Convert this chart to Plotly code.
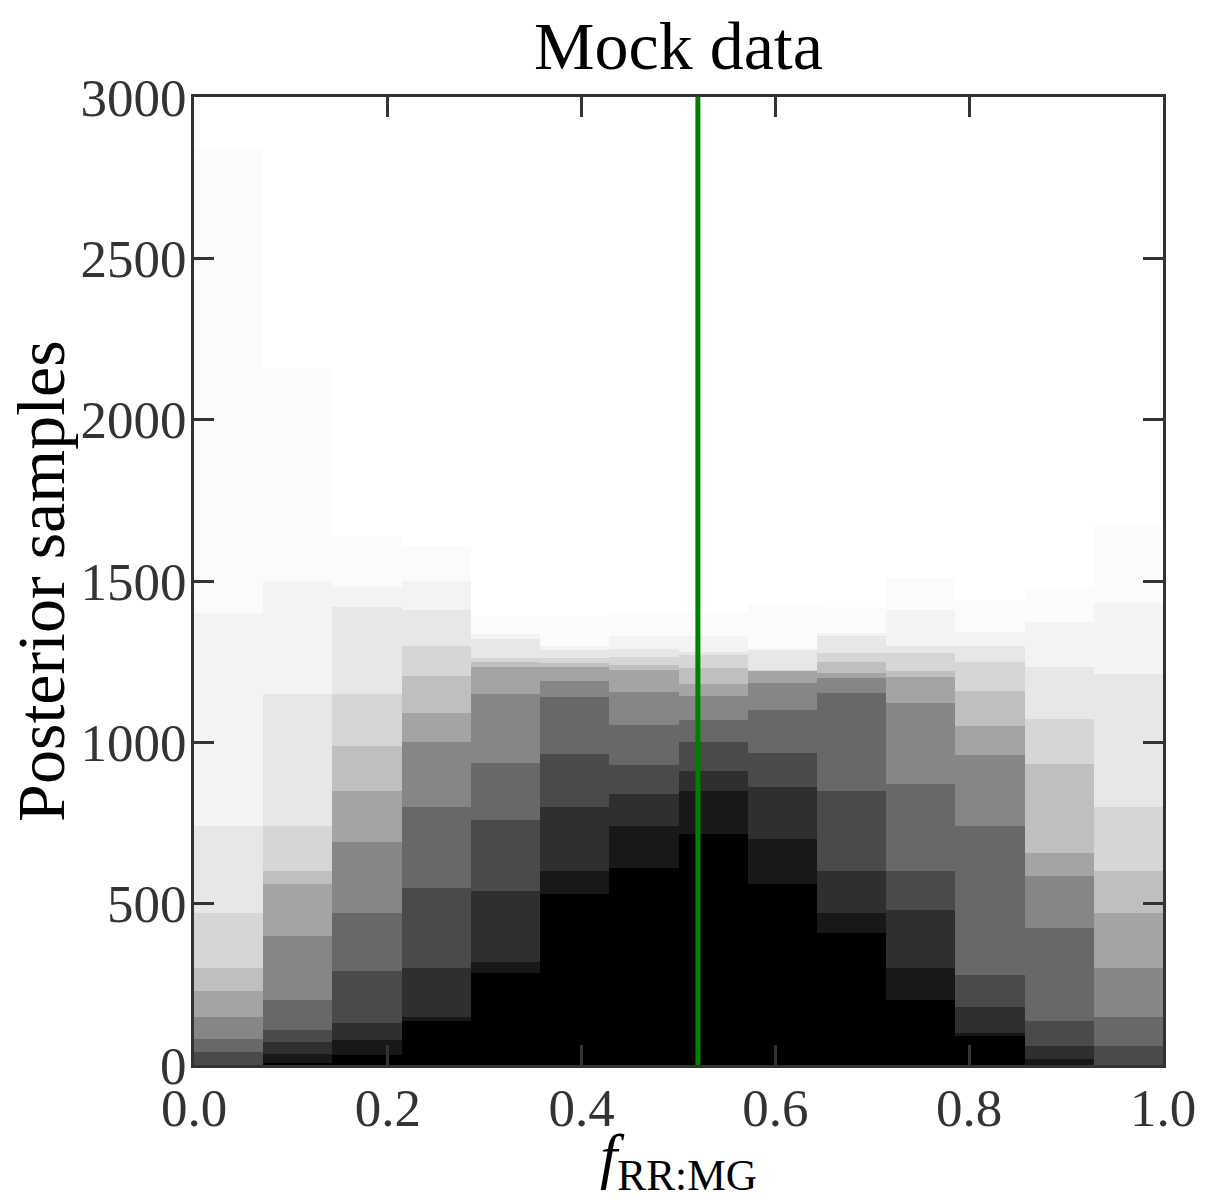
import numpy as np
import plotly.graph_objects as go

# 14 histogram bins spanning f = 0 .. 1
n_bins = 14
bin_edges = np.linspace(0.0, 1.0, n_bins + 1)
bin_centers = 0.5 * (bin_edges[:-1] + bin_edges[1:])

# Grey shade levels (0 = black, 255 = white) of the overlaid posterior histograms
shade_levels = [250, 240, 225, 205, 180, 150, 120, 90, 60, 35, 15, 0]
# grey used to paint the band just below each level's height
band_greys = [251, 243, 231, 214, 191, 164, 134, 104, 74, 47, 24, 0]

# Height (posterior samples) below which each bin is at least as dark as the level
h_250 = [2842, 2160, 1640, 1610, 1390, 1390, 1400, 1400, 1430, 1420, 1510, 1440, 1478, 1673]
h_240 = [1400, 1500, 1480, 1500, 1335, 1300, 1330, 1330, 1290, 1340, 1410, 1343, 1373, 1432]
h_225 = [740, 1150, 1420, 1410, 1320, 1285, 1290, 1280, 1285, 1330, 1300, 1300, 1233, 1212]
h_205 = [470, 740, 1150, 1300, 1260, 1260, 1265, 1270, 1225, 1276, 1276, 1250, 1072, 800]
h_180 = [300, 600, 990, 1205, 1250, 1245, 1240, 1230, 1222, 1250, 1220, 1160, 933, 600]
h_150 = [230, 560, 850, 1090, 1235, 1235, 1225, 1180, 1220, 1214, 1204, 1050, 657, 470]
h_120 = [150, 400, 690, 1000, 1150, 1190, 1155, 1145, 1183, 1200, 1122, 960, 586, 300]
h_90 = [80, 200, 470, 800, 935, 1140, 1055, 1070, 1100, 1153, 870, 740, 425, 150]
h_60 = [40, 110, 290, 550, 760, 965, 930, 1000, 966, 850, 600, 280, 136, 60]
h_35 = [0, 70, 130, 300, 540, 800, 840, 910, 862, 600, 480, 180, 60, 0]
h_15 = [0, 35, 77, 150, 320, 600, 740, 850, 700, 470, 300, 100, 20, 0]
h_0 = [0, 5, 30, 135, 285, 530, 610, 715, 560, 410, 200, 90, 0, 0]
level_heights = [h_250, h_240, h_225, h_205, h_180, h_150, h_120, h_90, h_60, h_35, h_15, h_0]

# True value marker
true_f = 0.52

x_ticks = [0.0, 0.2, 0.4, 0.6, 0.8, 1.0]
x_tick_labels = ["0.0", "0.2", "0.4", "0.6", "0.8", "1.0"]
y_ticks = [0, 500, 1000, 1500, 2000, 2500, 3000]
y_tick_labels = ["0", "500", "1000", "1500", "2000", "2500", "3000"]

fig = go.Figure()
for grey, heights in zip(band_greys, level_heights):
    fig.add_trace(go.Bar(
        x=bin_centers, y=heights, width=1.0 / n_bins,
        marker=dict(color=f"rgb({grey},{grey},{grey})", line=dict(width=0)),
        showlegend=False, hoverinfo="skip",
    ))

fig.add_trace(go.Scatter(
    x=[true_f, true_f], y=[0, 3000], mode="lines",
    line=dict(color="#008000", width=5), showlegend=False, hoverinfo="skip",
))

serif = "Liberation Serif, Times New Roman, serif"
axis_common = dict(
    showline=True, linewidth=3, linecolor="#333333", mirror="ticks",
    ticks="inside", ticklen=20, tickwidth=2.5, tickcolor="#333333",
    showgrid=False, zeroline=False, automargin=False,
    ticklabelstandoff=-6,
    tickfont=dict(family=serif, size=53, color="#333333"),
)

# the page body adds an 8 px offset, so the figure is 8 px smaller
fig.update_layout(
    width=1200, height=1195,
    margin=dict(l=186, r=45, t=89, b=138),
    paper_bgcolor="white", plot_bgcolor="white",
    barmode="overlay", bargap=0,
    title=dict(text="Mock data", xref="paper", x=0.5, xanchor="center",
               yref="container", y=0.969, yanchor="middle",
               font=dict(family=serif, size=68, color="black")),
    xaxis=dict(range=[0, 1], tickvals=x_ticks, ticktext=x_tick_labels, **axis_common),
    yaxis=dict(range=[0, 3000], tickvals=y_ticks, ticktext=y_tick_labels, **axis_common),
    annotations=[
        dict(text="<i>f</i><sub>RR:MG</sub>", xref="paper", yref="paper",
             x=0.5, y=-0.141, xanchor="center", yanchor="bottom", showarrow=False,
             font=dict(family=serif, size=62, color="black")),
        dict(text="Posterior samples", xref="paper", yref="paper", textangle=-90,
             x=-0.158, y=0.5, xanchor="center", yanchor="middle", showarrow=False,
             font=dict(family=serif, size=68, color="black")),
    ],
)

fig.write_html("out.html")
